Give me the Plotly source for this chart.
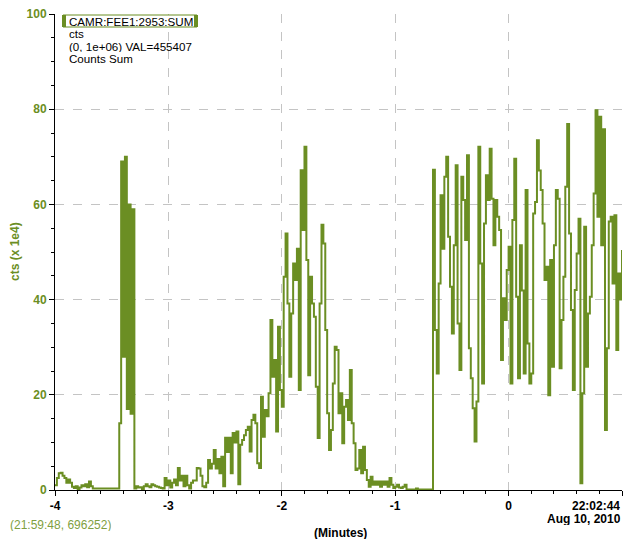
import plotly.graph_objects as go

# ---- data (counts, in units of 1e4), one sample per second starting at -4 min ----
START_MIN = -4.0
SAMPLE_SEC = 1.0

cts_start = [1, 2.5, 3.5, 3.6, 3, 2.5, 1.5, 2.2, 1.5, 0.7, 0.4, 0.8, 0.2, 0.5, 1, 0.8,
             1.2, 0.6, 1.8, 0.8, 0.3,
             0.3, 0.3, 0.3, 0.3, 0.3, 0.3, 0.3, 0.3, 0.3, 0.3, 0.3, 0.3, 0.3]
cts_burst1 = [14, 69, 28, 70, 17, 60, 16, 59]
cts_quiet1 = [0.3, 0.8, 0.5, 0.6, 0.2, 0.8, 1.2, 0.8, 0.6, 1.2, 1, 0.8, 0.7, 0.5, 0.4, 0.3]
cts_rise = [2.5, 1, 2, 0.5, 1.5, 2.2, 1, 4.6, 2, 3,
            0.8, 3, 1, 0.3, 1.5, 2, 2, 4.6, 4.5, 3,
            0.8, 0.6, 1.5, 6.3, 4.5, 5.5, 8.4, 4.5, 6.5, 3.5,
            7, 0.8, 11, 8, 11, 3.5, 12, 10, 12.3, 1.2,
            9.5, 10.5, 11.5]
cts_hump = [12.6, 13.3, 8.1, 14.7, 15.8, 14, 5.6, 4.6, 19.6, 11.2,
            16.8, 15.5, 20.3, 35.7, 23.8, 27.3, 12.3, 34.3, 21, 17.5,
            44.8, 53.9, 39.2, 23.8, 37.1, 47.6, 44.1, 50.7, 21, 67.2,
            54.6, 72.1, 48.3, 24.1, 44.8, 39.2, 36.4, 21.7, 10.9, 39.2,
            55.7, 51.8, 33.6, 16.1, 8.4, 12.6, 22.4, 30.1, 29.4, 16.1,
            20.3, 9.8, 17.5, 18.9]
cts_decay = [14.7, 25.2, 14, 9.8, 4.2, 4.5, 8.4, 3.5, 9.1, 4.2,
             2.1, 0.7, 2.8, 1.1, 1.8, 1.1, 1.8, 0.7, 1.8, 1.1,
             1.8, 0.7, 2.5, 1.1, 0.4, 0.7, 1.1, 0.5, 0.4, 0.7,
             1.1, 0.1,
             0.1, 0.1, 0.1, 0.1, 0.3, 0.1, 0.1, 0.1, 0.1, 0.1, 0.1, 0.1, 0.1]
cts_beam_a = [67.3, 33.6, 24.5, 43.4, 61.9, 50.7, 65.8, 70, 53.2, 42.7,
              32.9, 51.4, 68.2, 35, 25.2, 65.8, 60.9, 52.5, 70.3, 29.8,
              23.5, 17.2, 10.2, 18.6, 72.1, 47.6, 22.4, 56, 66.1, 60.9,
              71.7, 61.2, 51.4, 60.9, 57.4, 54.6, 27.3, 40.3, 35.7, 46.2,
              51.1, 22.4, 56.7, 69.6, 40.6, 23.5, 51.4, 41.9, 24.5, 63,
              30.8, 22.4, 24.5]
cts_beam_b = [58.1, 60.5, 73.5, 67.1, 63, 56, 44.1, 46.9, 19.9, 48.3,
              25.9, 51.4, 63, 61.2, 25.6, 35.7, 44.8, 63.7, 76.9, 53.9,
              37.8, 21, 42, 49.7, 57, 1.4, 20.3, 55.3, 25.9, 37.1,
              40.6, 51.4, 62.3, 79.8, 57.4, 78.4, 51.4, 75.8, 12.6, 29.8,
              56.4, 57.4, 43.4, 57.7, 29.4, 45.5, 40, 50.4]

x_tick_vals = [-4, -3, -2, -1, 0, 1]
x_tick_text = ["-4", "-3", "-2", "-1", "0", ""]

legend_lines = ["CAMR:FEE1:2953:SUM", "cts", "(0, 1e+06) VAL=455407", "Counts Sum"]

counts = (cts_start + cts_burst1 + cts_quiet1 + cts_rise + cts_hump +
          cts_decay + cts_beam_a + cts_beam_b)
minutes = [START_MIN + i * SAMPLE_SEC / 60.0 for i in range(len(counts))]

GREEN = "#6b8e23"
FONT = "Liberation Sans, Arial, sans-serif"

W, H = 623, 542
ML, MR, MT, MB = 55, 1, 14, 52
PW, PH = W - ML - MR, H - MT - MB


def px(xp):
    return (xp - ML) / PW


def py(yp):
    return (H - MB - yp) / PH


fig = go.Figure()
fig.add_trace(go.Scatter(
    x=minutes, y=counts, mode="lines",
    line=dict(color=GREEN, width=2, shape="hv"),
    hoverinfo="skip", showlegend=False,
))

axis_common = dict(
    showline=True, linecolor="black", linewidth=1,
    ticks="outside", ticklen=5, tickcolor="black", tickwidth=1,
    showgrid=True, gridcolor="#c4c4c4", gridwidth=1, griddash="dash",
    zeroline=False,
)

fig.update_layout(
    width=W, height=H,
    margin=dict(l=ML, r=MR, t=MT, b=MB, pad=0),
    paper_bgcolor="white", plot_bgcolor="white",
    font=dict(family=FONT, size=12, color="black"),
    showlegend=False,
    xaxis=dict(
        range=[-4, 1], tickmode="array", tickvals=x_tick_vals, ticktext=x_tick_text,
        tickfont=dict(family=FONT, size=12, color="black", weight="bold"),
        minor=dict(tickmode="linear", tick0=-4, dtick=0.2, ticks="outside",
                   ticklen=3, tickcolor="black", showgrid=False),
        **axis_common,
    ),
    yaxis=dict(
        range=[0, 100], tickmode="linear", tick0=0, dtick=20,
        tickfont=dict(family=FONT, size=12, color=GREEN, weight="bold"),
        minor=dict(tickmode="linear", tick0=0, dtick=5, ticks="outside",
                   ticklen=3, tickcolor="black", showgrid=False),
        **axis_common,
    ),
)

# legend-like box in the upper left
fig.add_shape(type="rect", xref="paper", yref="paper",
              x0=px(63), x1=px(197), y0=py(27), y1=py(15),
              line=dict(color=GREEN, width=1), fillcolor="white", layer="above")
fig.add_shape(type="rect", xref="paper", yref="paper",
              x0=px(62), x1=px(66), y0=py(27), y1=py(15),
              line=dict(width=0), fillcolor=GREEN, layer="above")
fig.add_shape(type="rect", xref="paper", yref="paper",
              x0=px(194), x1=px(198), y0=py(27), y1=py(15),
              line=dict(width=0), fillcolor=GREEN, layer="above")

legend_y = [21, 33.5, 46, 58]
for txt, yy in zip(legend_lines, legend_y):
    fig.add_annotation(xref="paper", yref="paper", x=px(67.5), y=py(yy),
                       xanchor="left", yanchor="middle", showarrow=False,
                       height=12, borderpad=0, text=txt,
                       font=dict(family=FONT, size=11.6, color="black"))

fig.add_annotation(xref="paper", yref="paper", x=px(621), y=py(506),
                   xanchor="right", yanchor="middle", showarrow=False,
                   height=12, borderpad=0,
                   text="<b>22:02:44</b>", font=dict(family=FONT, size=12, color="black"))
fig.add_annotation(xref="paper", yref="paper", x=px(622), y=py(519),
                   xanchor="right", yanchor="middle", showarrow=False,
                   height=12, borderpad=0,
                   text="<b>Aug 10, 2010</b>", font=dict(family=FONT, size=12, color="black"))
fig.add_annotation(xref="paper", yref="paper", x=px(340), y=py(533),
                   xanchor="center", yanchor="middle", showarrow=False,
                   height=12, borderpad=0,
                   text="<b>(Minutes)</b>", font=dict(family=FONT, size=12, color="black"))
fig.add_annotation(xref="paper", yref="paper", x=px(9), y=py(525),
                   xanchor="left", yanchor="middle", showarrow=False,
                   height=12, borderpad=0,
                   text="(21:59:48, 696252)", font=dict(family=FONT, size=12, color="#7f9f3f"))
fig.add_annotation(xref="paper", yref="paper", x=px(15), y=py(252),
                   xanchor="center", yanchor="middle", showarrow=False, textangle=-90,
                   text="<b>cts (x 1e4)</b>", font=dict(family=FONT, size=12, color=GREEN))

fig.write_html("out.html",
               config={"displayModeBar": False},
               post_script="document.body.style.margin='0px';"
                           "document.body.style.overflow='hidden';")
